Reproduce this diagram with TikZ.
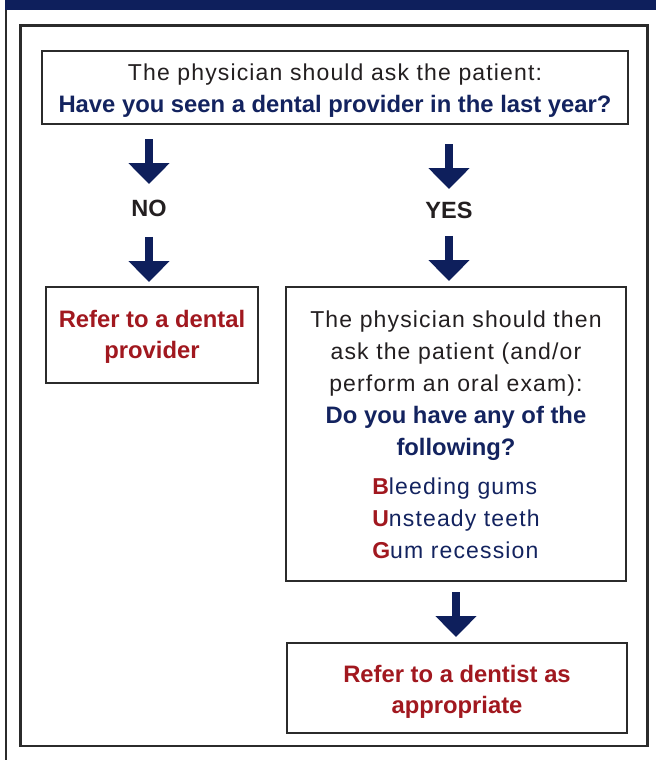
\documentclass[tikz,border=0pt]{standalone}
\usepackage{fontspec}
\usepackage{tikz}
\usetikzlibrary{arrows.meta,positioning}
\setmainfont{Liberation Sans}
\newfontfamily\widefont[LetterSpace=5]{Liberation Sans}
\definecolor{navy}{HTML}{0E1F5C}
\definecolor{askblue}{HTML}{13235F}
\definecolor{referred}{HTML}{A1181F}
\definecolor{ink}{HTML}{231F20}
\definecolor{boxline}{HTML}{2B2B2B}
\tikzset{
  box/.style={draw=boxline,line width=2.5pt,fill=white,align=center,inner sep=0pt,outer sep=0pt,font=\fontsize{23}{32}\selectfont\widefont,text=ink},
  refer/.style={box,text=referred,font=\fontsize{23.8}{31}\selectfont\bfseries},
  answer/.style={font=\fontsize{23.5}{28}\selectfont\bfseries,text=ink,inner sep=0pt,outer sep=0pt,text depth=0pt},
  bigarrow/.style={-{Triangle[width=40pt,length=21pt]},line width=8pt,navy}
}
\newcommand{\ask}[1]{{\normalfont\fontsize{23.8}{32}\selectfont\bfseries\color{askblue}#1}}
\newcommand{\bug}[1]{{\normalfont\bfseries\color{referred}#1}}
\newcommand{\lift}[1]{\rule{0pt}{#1}}

\begin{document}
\begin{tikzpicture}[x=1pt,y=-1pt]
  \useasboundingbox (0,0) rectangle (656,760);
  \fill[navy] (5,0) rectangle (656,10);
  \draw[boxline,line width=2.3pt] (6.2,10) -- (6.2,760);
  \draw[boxline,line width=2.5pt] (20.5,25.5) rectangle (647.5,746);

  \node[box,minimum width=586pt,minimum height=73pt] (q) at (335,87.5)
    {\lift{23.4pt}The physician should ask the patient:\\\ask{Have you seen a dental provider in the last year?}};
  \node[answer] (no) at (149,208) {NO};
  \node[answer] (yes) at (449,210) {YES};
  \node[refer,minimum width=212pt,minimum height=96pt] (dental) at (152,335) {\lift{21.3pt}Refer to a dental\\provider};
  \node[box,minimum width=340pt,minimum height=294pt] (exam) at (456,434)
    {\lift{27.2pt}The physician should then\\ask the patient (and/or\\perform an oral exam):\\
     \ask{Do you have any of the}\\\ask{following?}\\[7pt]
     \begin{tabular}[t]{@{}l@{}}
       \bug{B}\textcolor{askblue}{leeding gums}\\
       \bug{U}\textcolor{askblue}{nsteady teeth}\\
       \bug{G}\textcolor{askblue}{um recession}
     \end{tabular}};
  \node[refer,minimum width=340pt,minimum height=90pt] (dentist) at (457,688) {\lift{25.3pt}Refer to a dentist as\\appropriate};

  \draw[bigarrow,shorten <=15pt,shorten >=15.75pt] (q.south -| no) -- (no.north);
  \draw[bigarrow,shorten <=20.75pt,shorten >=5pt] (no.south) -- (no.south |- dental.north);
  \draw[bigarrow,shorten <=20pt,shorten >=12.75pt] (q.south -| yes) -- (yes.north);
  \draw[bigarrow,shorten <=17.75pt,shorten >=6pt] (yes.south) -- (yes.south |- exam.north);
  \draw[bigarrow,shorten <=11pt,shorten >=6pt] (exam.south) -- (exam.south |- dentist.north);
\end{tikzpicture}
\end{document}
